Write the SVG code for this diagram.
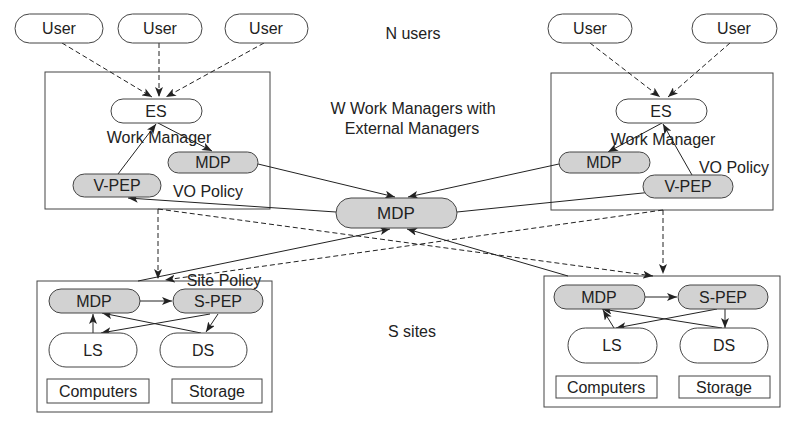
<svg xmlns="http://www.w3.org/2000/svg" width="794" height="423" viewBox="0 0 794 423">
<defs>
<style>
text{font-family:"Liberation Sans",Arial,sans-serif;font-size:16px;fill:#222;text-anchor:middle}
.n{fill:#fff;stroke:#444;stroke-width:1}
.g{fill:#d2d2d2;stroke:#444;stroke-width:1}
.box{fill:#fff;stroke:#444;stroke-width:1}
.c{stroke:#222;stroke-width:1;fill:none;marker-end:url(#ah)}
.d{stroke:#222;stroke-width:1;fill:none;stroke-dasharray:5,3;marker-end:url(#ah)}
.p{stroke:#222;stroke-width:1;fill:none}
</style>
<marker id="ah" viewBox="0 0 10 8" refX="10" refY="4" markerWidth="10" markerHeight="8" orient="auto" markerUnits="userSpaceOnUse"><path d="M0,0 L10,4 L0,8 L2.5,4 z" fill="#222"/></marker>
</defs>
<rect width="794" height="423" fill="#fff"/>

<g id="wm-left"><rect class="box" x="45" y="72" width="225" height="137"/></g>
<g id="wm-right"><rect class="box" x="551" y="73" width="222" height="137"/></g>
<g id="site-left"><rect class="box" x="37" y="281" width="235" height="131"/></g>
<g id="site-right"><rect class="box" x="544" y="276" width="236" height="131"/></g>

<g id="labels">
<text x="413" y="39">N users</text>
<text x="413" y="114">W Work Managers with</text>
<text x="412" y="134">External Managers</text>
<text x="412" y="337">S sites</text>
<text x="159" y="143">Work Manager</text>
<text x="208" y="197">VO Policy</text>
<text x="663" y="145">Work Manager</text>
<text x="734" y="173">VO Policy</text>
</g>

<g id="connectors">
<line class="d" x1="62" y1="43" x2="152" y2="97"/>
<line class="d" x1="159" y1="43" x2="159" y2="97"/>
<line class="d" x1="264" y1="43" x2="166" y2="97"/>
<line class="d" x1="590" y1="43" x2="660" y2="97"/>
<line class="d" x1="730" y1="43" x2="668" y2="97"/>
<line class="c" x1="158" y1="123" x2="212" y2="151"/>
<line class="c" x1="118" y1="174" x2="156" y2="124"/>
<line class="c" x1="662" y1="123" x2="608" y2="152"/>
<line class="c" x1="692" y1="175" x2="663" y2="124"/>
<line class="c" x1="258" y1="164" x2="395" y2="197"/>
<line class="c" x1="559" y1="164" x2="408" y2="197"/>
<line class="c" x1="336" y1="212" x2="128" y2="198"/>
<line class="c" x1="457" y1="212" x2="682" y2="189"/>
<line class="d" x1="158" y1="209" x2="158" y2="279"/>
<line class="d" x1="663" y1="210" x2="663" y2="274"/>
<line class="d" x1="158" y1="209" x2="653" y2="276"/>
<line class="d" x1="663" y1="210" x2="165" y2="280"/>
<line class="c" x1="138" y1="281" x2="390" y2="229"/>
<line class="c" x1="568" y1="276" x2="407" y2="229"/>
<line class="c" x1="140" y1="301" x2="172" y2="301"/>
<line class="c" x1="93" y1="333" x2="93" y2="314"/>
<line class="c" x1="210" y1="314" x2="101" y2="333"/>
<line class="c" x1="201" y1="333" x2="102" y2="313"/>
<line class="c" x1="218" y1="314" x2="206" y2="332"/>
<line class="c" x1="645" y1="297" x2="677" y2="297"/>
<line class="c" x1="725" y1="309" x2="725" y2="328"/>
<line class="c" x1="722" y1="328" x2="602" y2="309"/>
<line class="c" x1="717" y1="309" x2="616" y2="328"/>
<line class="c" x1="614" y1="328" x2="603" y2="310"/>
</g>

<g id="user1"><rect class="n" x="15" y="14" width="88" height="29" rx="14.5"/><text x="59" y="34">User</text></g>
<g id="user2"><rect class="n" x="118" y="14" width="84" height="29" rx="14.5"/><text x="160" y="34">User</text></g>
<g id="user3"><rect class="n" x="225" y="14" width="83" height="29" rx="14.5"/><text x="266" y="34">User</text></g>
<g id="user4"><rect class="n" x="548" y="14" width="84" height="29" rx="14.5"/><text x="590" y="34">User</text></g>
<g id="user5"><rect class="n" x="692" y="14" width="85" height="29" rx="14.5"/><text x="734" y="34">User</text></g>

<g id="es-left"><rect class="n" x="111" y="99" width="91" height="24" rx="12"/><text x="156" y="117">ES</text></g>
<g id="mdp-wl"><rect class="g" x="168" y="152" width="90" height="21" rx="10.5"/><text x="213" y="168">MDP</text></g>
<g id="vpep-left"><rect class="g" x="73" y="174" width="88" height="23" rx="11.5"/><text x="117" y="191">V-PEP</text></g>

<g id="es-right"><rect class="n" x="616" y="99" width="91" height="24" rx="12"/><text x="661" y="117">ES</text></g>
<g id="mdp-wr"><rect class="g" x="559" y="152" width="91" height="21" rx="10.5"/><text x="604" y="168">MDP</text></g>
<g id="vpep-right"><rect class="g" x="643" y="175" width="90" height="23" rx="11.5"/><text x="688" y="192">V-PEP</text></g>

<g id="mdp-center"><rect class="g" x="336" y="198" width="121" height="30" rx="15"/><text x="396" y="219" style="font-size:17px">MDP</text></g>

<g id="site-left-nodes">
<text x="224" y="286">Site Policy</text>
<rect class="g" x="49" y="289" width="91" height="24" rx="12"/><text x="94" y="307">MDP</text>
<rect class="g" x="173" y="289" width="90" height="24" rx="12"/><text x="218" y="307">S-PEP</text>
<rect class="n" x="49" y="333" width="88" height="34" rx="17"/><text x="93" y="356">LS</text>
<rect class="n" x="160" y="333" width="87" height="34" rx="17"/><text x="203" y="356">DS</text>
<rect class="box" x="47" y="379" width="102" height="24"/><text x="98" y="397">Computers</text>
<rect class="box" x="172" y="379" width="90" height="24"/><text x="217" y="397">Storage</text>
</g>

<g id="site-right-nodes">
<rect class="g" x="554" y="285" width="91" height="24" rx="12"/><text x="599" y="303">MDP</text>
<rect class="g" x="678" y="285" width="90" height="24" rx="12"/><text x="723" y="303">S-PEP</text>
<rect class="n" x="568" y="328" width="89" height="35" rx="17.5"/><text x="612" y="351">LS</text>
<rect class="n" x="680" y="328" width="88" height="35" rx="17.5"/><text x="724" y="351">DS</text>
<rect class="box" x="556" y="376" width="101" height="22"/><text x="606" y="393">Computers</text>
<rect class="box" x="679" y="376" width="91" height="22"/><text x="724" y="393">Storage</text>
</g>
</svg>
